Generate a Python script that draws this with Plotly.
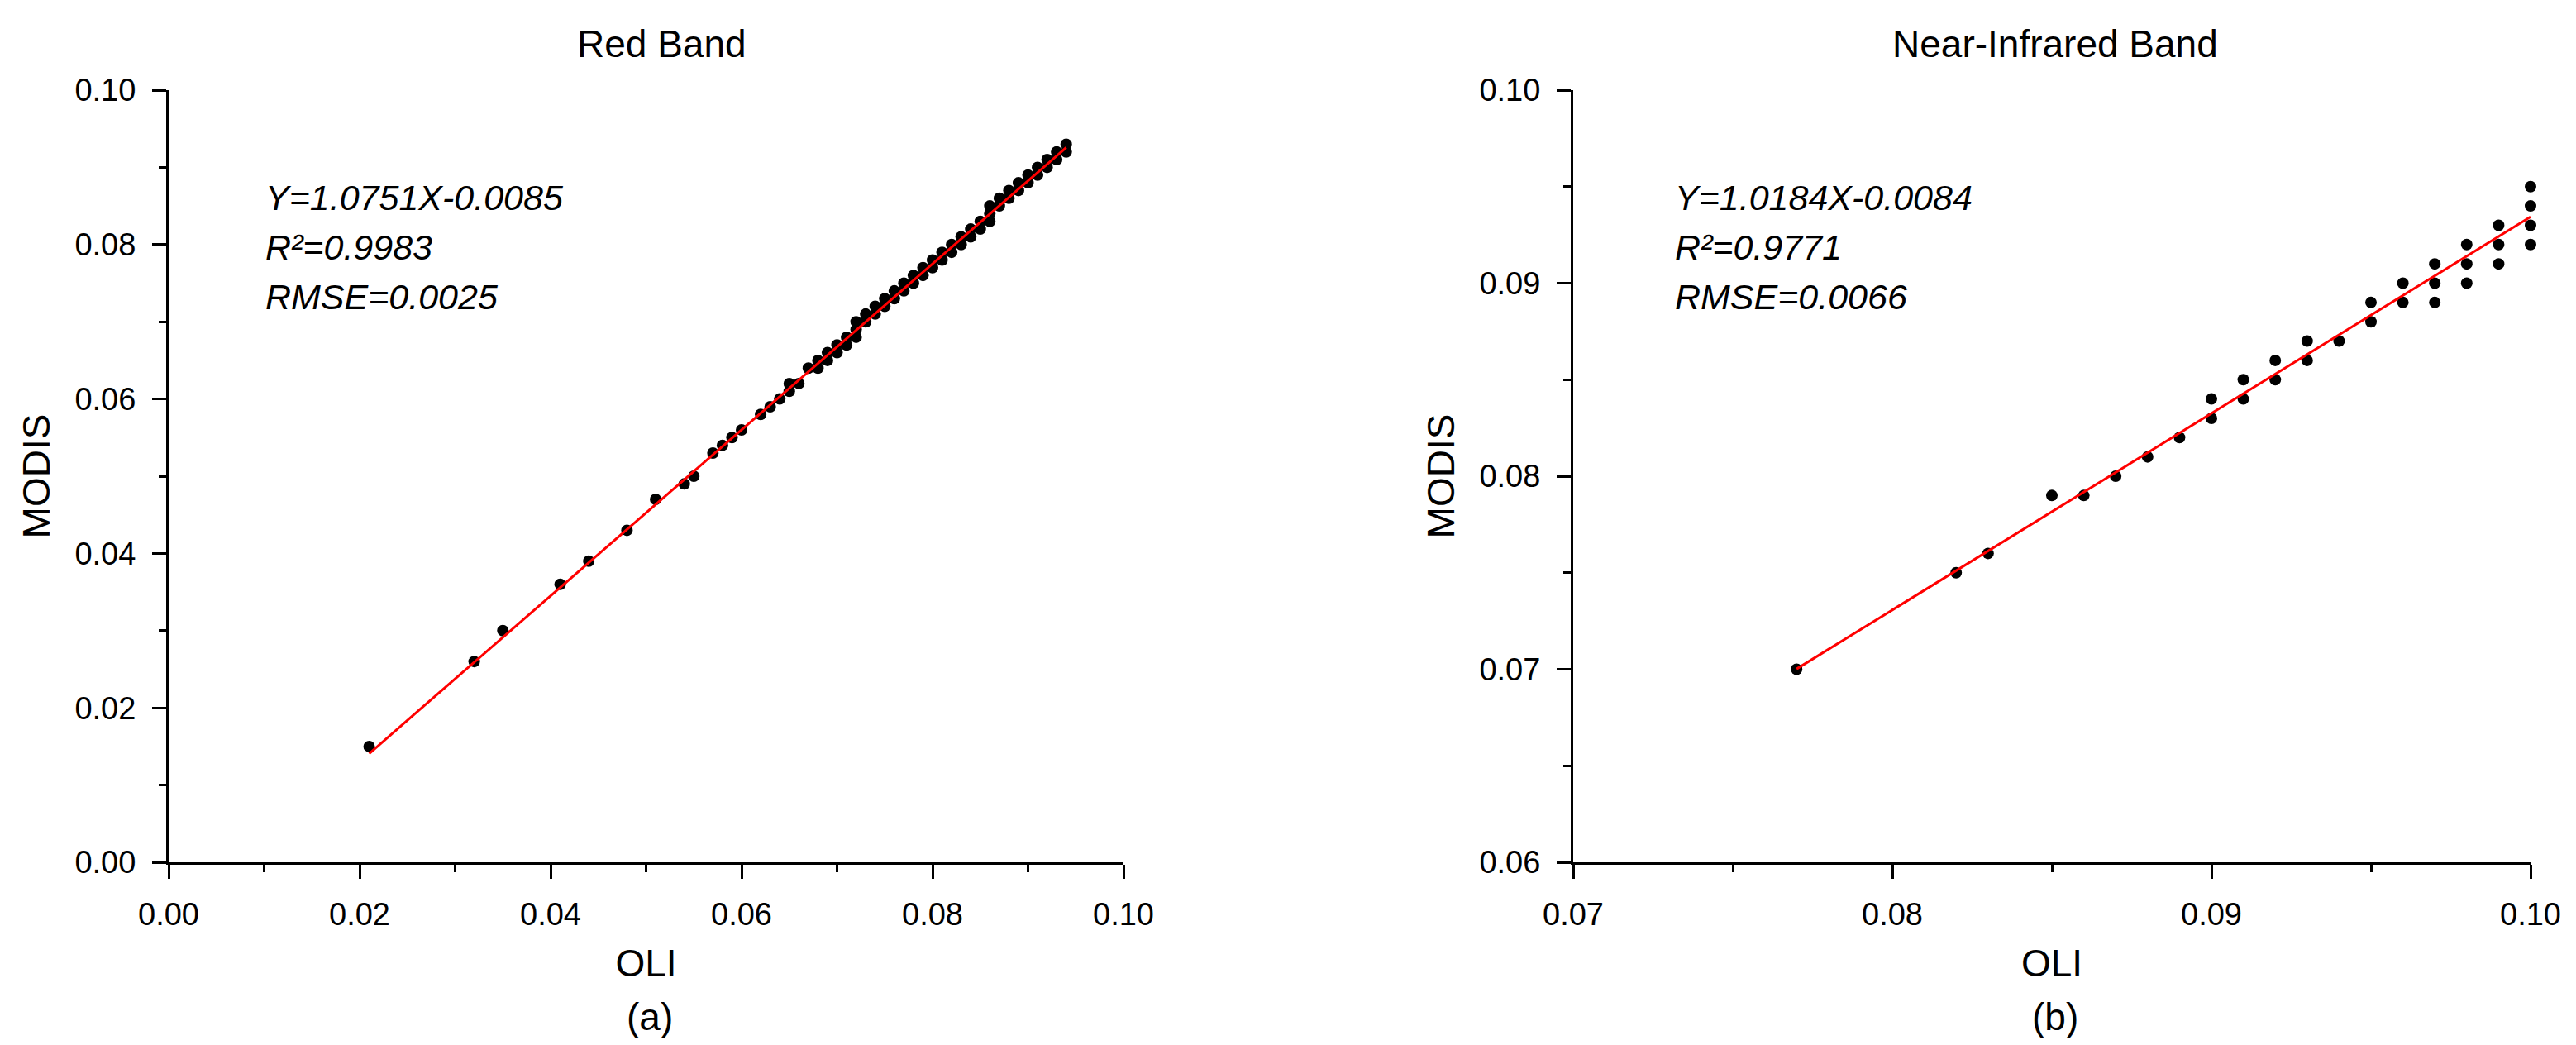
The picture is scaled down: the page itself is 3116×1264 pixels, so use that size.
import plotly.graph_objects as go

W, H = 3116, 1264

# ---------------- data ----------------
red_oli = [0.021, 0.032, 0.035, 0.041, 0.044, 0.048, 0.051, 0.054, 0.055, 0.057,
           0.058, 0.059, 0.060, 0.062, 0.063, 0.064, 0.065, 0.065, 0.066, 0.067,
           0.068, 0.068, 0.069, 0.069, 0.070, 0.070, 0.071, 0.071, 0.072, 0.072,
           0.072, 0.073, 0.073, 0.074, 0.074, 0.075, 0.075, 0.076, 0.076, 0.077,
           0.077, 0.078, 0.078, 0.079, 0.079, 0.080, 0.080, 0.081, 0.081, 0.082,
           0.082, 0.083, 0.083, 0.084, 0.084, 0.085, 0.085, 0.086, 0.086, 0.086,
           0.087, 0.087, 0.088, 0.088, 0.089, 0.089, 0.090, 0.090, 0.091, 0.091,
           0.092, 0.092, 0.093, 0.093, 0.094, 0.094]
red_modis = [0.015, 0.026, 0.030, 0.036, 0.039, 0.043, 0.047, 0.049, 0.050, 0.053,
             0.054, 0.055, 0.056, 0.058, 0.059, 0.060, 0.061, 0.062, 0.062, 0.064,
             0.064, 0.065, 0.065, 0.066, 0.066, 0.067, 0.067, 0.068, 0.068, 0.069,
             0.070, 0.070, 0.071, 0.071, 0.072, 0.072, 0.073, 0.073, 0.074, 0.074,
             0.075, 0.075, 0.076, 0.076, 0.077, 0.077, 0.078, 0.078, 0.079, 0.079,
             0.080, 0.080, 0.081, 0.081, 0.082, 0.082, 0.083, 0.083, 0.084, 0.085,
             0.085, 0.086, 0.086, 0.087, 0.087, 0.088, 0.088, 0.089, 0.089, 0.090,
             0.090, 0.091, 0.091, 0.092, 0.092, 0.093]

nir_oli = [0.077, 0.082, 0.083, 0.085, 0.086, 0.087, 0.088, 0.089, 0.090, 0.090,
           0.091, 0.091, 0.092, 0.092, 0.093, 0.093, 0.094, 0.095, 0.095, 0.096,
           0.096, 0.097, 0.097, 0.097, 0.098, 0.098, 0.098, 0.099, 0.099, 0.099,
           0.100, 0.100, 0.100, 0.100]
nir_modis = [0.070, 0.075, 0.076, 0.079, 0.079, 0.080, 0.081, 0.082, 0.083, 0.084,
             0.084, 0.085, 0.085, 0.086, 0.086, 0.087, 0.087, 0.088, 0.089, 0.089,
             0.090, 0.089, 0.090, 0.091, 0.090, 0.091, 0.092, 0.091, 0.092, 0.093,
             0.092, 0.093, 0.094, 0.095]

# regression lines (slope, intercept, x-range)
red_fit = (1.0751, -0.0085)
red_fit_x = [0.021, 0.094]
nir_fit = (1.0184, -0.0084)
nir_fit_x = [0.077, 0.100]

red_stats = ["Y=1.0751X-0.0085", "R²=0.9983", "RMSE=0.0025"]
nir_stats = ["Y=1.0184X-0.0084", "R²=0.9771", "RMSE=0.0066"]
titles = ["Red Band", "Near-Infrared Band"]
labels = ["(a)", "(b)"]

# ---------------- layout geometry (pixels) ----------------
L, R, T, B = 196, 3053, 101, 1035
PW, PH = R - L, B - T

def px(p):
    return (p - L) / PW

def py(p):
    return (B - p) / PH

FONT = "Liberation Sans, Arial, sans-serif"

fig = go.Figure()

fig.add_trace(go.Scatter(x=red_oli, y=red_modis, mode="markers",
                         marker=dict(color="black", size=14),
                         xaxis="x", yaxis="y", showlegend=False, cliponaxis=False))
fig.add_trace(go.Scatter(x=red_fit_x, y=[red_fit[0] * v + red_fit[1] for v in red_fit_x],
                         mode="lines", line=dict(color="#ff0000", width=3),
                         xaxis="x", yaxis="y", showlegend=False, cliponaxis=False))
fig.add_trace(go.Scatter(x=nir_oli, y=nir_modis, mode="markers",
                         marker=dict(color="black", size=14),
                         xaxis="x2", yaxis="y2", showlegend=False, cliponaxis=False))
fig.add_trace(go.Scatter(x=nir_fit_x, y=[nir_fit[0] * v + nir_fit[1] for v in nir_fit_x],
                         mode="lines", line=dict(color="#ff0000", width=3),
                         xaxis="x2", yaxis="y2", showlegend=False, cliponaxis=False))

common = dict(showline=True, linecolor="black", linewidth=3, mirror=False,
              ticks="outside", ticklen=17, tickwidth=3, tickcolor="black",
              showgrid=False, zeroline=False, tickformat=".2f", automargin=False,
              tickfont=dict(family=FONT, size=38, color="black"),
              title_font=dict(family=FONT, size=46, color="black"))

xminor = lambda d: dict(ticks="outside", ticklen=9, tickwidth=3, tickcolor="black", dtick=d)

fig.update_layout(
    width=W, height=H,
    margin=dict(l=L, r=W - R, t=T, b=H - B, autoexpand=False),
    paper_bgcolor="white", plot_bgcolor="white",
    font=dict(family=FONT, color="black"),
    xaxis=dict(common, domain=[0, px(1351)], range=[0, 0.10], dtick=0.02,
               anchor="y", title=dict(text="OLI", standoff=24),
               minor=xminor(0.01), ticklabelstandoff=10),
    yaxis=dict(common, domain=[0, 1], range=[0, 0.10], dtick=0.02,
               anchor="x", title=dict(text="MODIS", standoff=16),
               minor=xminor(0.01), ticklabelstandoff=12),
    xaxis2=dict(common, domain=[px(1895), 1], range=[0.07, 0.10], dtick=0.01,
                anchor="y2", title=dict(text="OLI", standoff=24),
                minor=xminor(0.005), ticklabelstandoff=10),
    yaxis2=dict(common, domain=[0, 1], range=[0.06, 0.10], dtick=0.01,
                anchor="x2", title=dict(text="MODIS", standoff=16),
                minor=xminor(0.005), ticklabelstandoff=12),
)

ann = []
for t, cx in zip(titles, [792, 2478]):
    ann.append(dict(text=t, x=px(cx), y=py(45), xref="paper", yref="paper",
                    xanchor="center", yanchor="middle", showarrow=False,
                    font=dict(family=FONT, size=46, color="black")))
for t, cx in zip(labels, [778, 2478]):
    ann.append(dict(text=t, x=px(cx), y=py(1222), xref="paper", yref="paper",
                    xanchor="center", yanchor="middle", showarrow=False,
                    font=dict(family=FONT, size=46, color="black")))
for stats, lx in zip([red_stats, nir_stats], [311, 2016]):
    for i, s in enumerate(stats):
        ann.append(dict(text="<i>" + s + "</i>", x=px(lx), y=py(231 + 60 * i),
                        xref="paper", yref="paper", xanchor="left", yanchor="middle",
                        showarrow=False,
                        font=dict(family=FONT, size=43, color="black")))
fig.update_layout(annotations=ann)

fig.write_html("out.html")
